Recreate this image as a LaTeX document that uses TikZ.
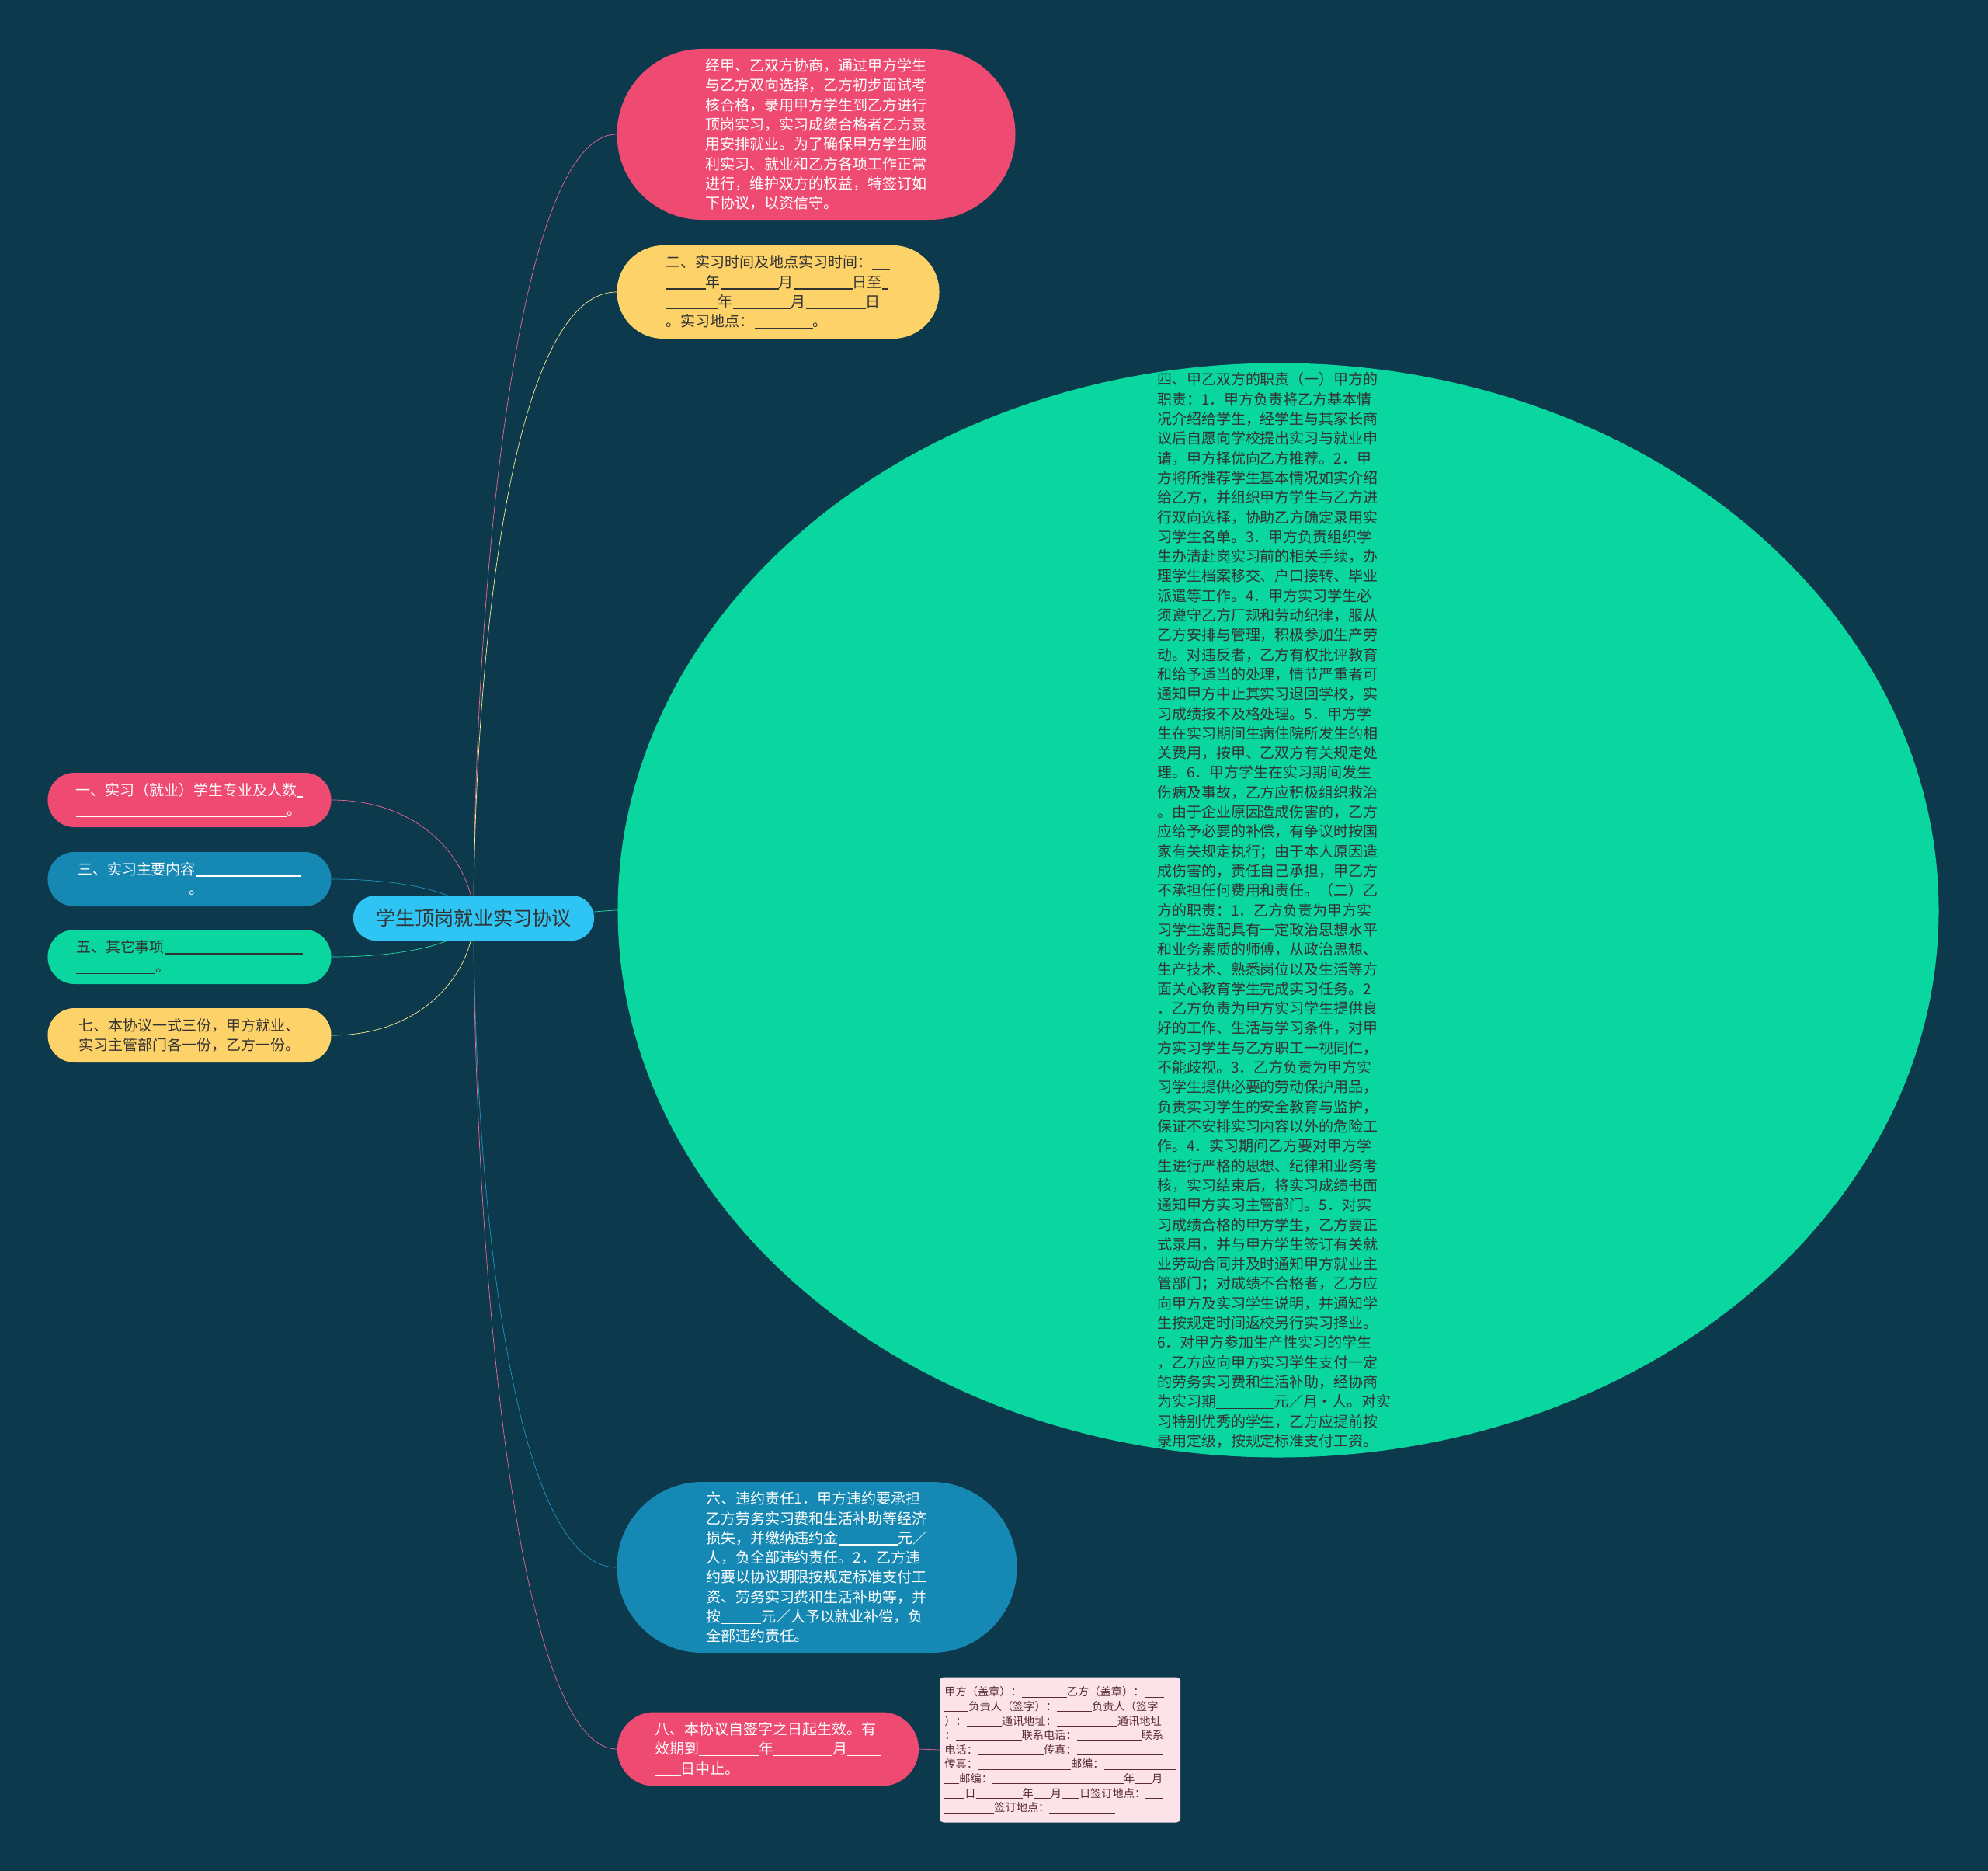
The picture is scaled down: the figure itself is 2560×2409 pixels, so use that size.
\documentclass[tikz,border=0pt]{standalone}
\usepackage{fontspec}
\setmainfont{Noto Sans CJK SC}
\usetikzlibrary{shapes.geometric,backgrounds}

\definecolor{pagebg}{HTML}{0C394B}
\definecolor{boxred}{HTML}{EF4A72}
\definecolor{boxyellow}{HTML}{FDD269}
\definecolor{boxblue}{HTML}{1688B4}
\definecolor{boxgreen}{HTML}{0AD6A0}
\definecolor{boxcyan}{HTML}{2EC4F3}
\definecolor{boxpink}{HTML}{FCE3E9}
\definecolor{linkred}{HTML}{EC6893}
\definecolor{linkyellow}{HTML}{F8EE92}
\definecolor{linkblue}{HTML}{2194C0}
\definecolor{linkgreen}{HTML}{26D9A9}
\definecolor{inkdark}{HTML}{333333}
\definecolor{inkpink}{HTML}{5A2A36}

% a fill-in line, length in pixels of the sketch
\newcommand{\blank}[1]{\rule[-0.12em]{\dimexpr0.2mm*#1\relax}{0.06em}}

\tikzset{
  pill/.style={rectangle, rounded corners=#1, inner sep=0pt, align=left},
  bodyfont/.style={font=\fontsize{10.8}{14.4}\selectfont},
  smallfont/.style={font=\fontsize{8.1}{10.6}\selectfont},
  redbox/.style={fill=boxred, text=white},
  yellowbox/.style={fill=boxyellow, text=inkdark},
  bluebox/.style={fill=boxblue, text=white},
  greenbox/.style={fill=boxgreen, text=inkdark},
  sidebox/.style={pill=0.69cm, bodyfont, minimum width=7.3cm, minimum height=1.4cm},
  link/.style={line width=2pt},
}

\begin{document}
\begin{tikzpicture}[x=0.2mm,y=-0.2mm]

\useasboundingbox (0,0) rectangle (2560,2409);
\begin{scope}[on background layer]
  \fill[pagebg] (0,0) rectangle (2560,2409);
\end{scope}

% centre
\node[pill=0.57cm, fill=boxcyan, text=inkdark, minimum width=6.2cm, minimum height=1.16cm,
      font=\fontsize{14.3}{17}\selectfont] (title) at (610,1182) {学生顶岗就业实习协议};

% left side
\node[sidebox, redbox] (item1) at (244,1030)
  {一、实习（就业）学生专业及人数\blank{8}\\\blank{272}。};
\node[sidebox, bluebox] (item3) at (244,1132)
  {三、实习主要内容\blank{136}\\\blank{143}。};
\node[sidebox, greenbox] (item5) at (244,1232)
  {五、其它事项\blank{178}\\\blank{102}。};
\node[sidebox, yellowbox] (item7) at (244,1333)
  {七、本协议一式三份，甲方就业、\\实习主管部门各一份，乙方一份。};

% right side
\node[pill=2.19cm, redbox, bodyfont, minimum width=10.26cm, minimum height=4.4cm] (intro) at (1051,173)
  {经甲、乙双方协商，通过甲方学生\\
   与乙方双向选择，乙方初步面试考\\
   核合格，录用甲方学生到乙方进行\\
   顶岗实习，实习成绩合格者乙方录\\
   用安排就业。为了确保甲方学生顺\\
   利实习、就业和乙方各项工作正常\\
   进行，维护双方的权益，特签订如\\
   下协议，以资信守。};

\node[pill=1.19cm, yellowbox, bodyfont, minimum width=8.3cm, minimum height=2.4cm] (time) at (1002,376)
  {二、实习时间及地点实习时间：\blank{23}\\
   \blank{51}年\blank{75}月\blank{76}日至\blank{8}\\
   \blank{67}年\blank{75}月\blank{77}日\\
   。实习地点：\blank{75}。};

\node[ellipse, fill=boxgreen, inner sep=0pt, minimum width=34.02cm, minimum height=28.18cm] (duties) at (1646,1172) {};
\node[bodyfont, text=inkdark, align=left, inner sep=0pt] (dutiestext) at (1641,1172)
  {四、甲乙双方的职责（一）甲方的\\
   职责：1．甲方负责将乙方基本情\\
   况介绍给学生，经学生与其家长商\\
   议后自愿向学校提出实习与就业申\\
   请，甲方择优向乙方推荐。2．甲\\
   方将所推荐学生基本情况如实介绍\\
   给乙方，并组织甲方学生与乙方进\\
   行双向选择，协助乙方确定录用实\\
   习学生名单。3．甲方负责组织学\\
   生办清赴岗实习前的相关手续，办\\
   理学生档案移交、户口接转、毕业\\
   派遣等工作。4．甲方实习学生必\\
   须遵守乙方厂规和劳动纪律，服从\\
   乙方安排与管理，积极参加生产劳\\
   动。对违反者，乙方有权批评教育\\
   和给予适当的处理，情节严重者可\\
   通知甲方中止其实习退回学校，实\\
   习成绩按不及格处理。5．甲方学\\
   生在实习期间生病住院所发生的相\\
   关费用，按甲、乙双方有关规定处\\
   理。6．甲方学生在实习期间发生\\
   伤病及事故，乙方应积极组织救治\\
   。由于企业原因造成伤害的，乙方\\
   应给予必要的补偿，有争议时按国\\
   家有关规定执行；由于本人原因造\\
   成伤害的，责任自己承担，甲乙方\\
   不承担任何费用和责任。（二）乙\\
   方的职责：1．乙方负责为甲方实\\
   习学生选配具有一定政治思想水平\\
   和业务素质的师傅，从政治思想、\\
   生产技术、熟悉岗位以及生活等方\\
   面关心教育学生完成实习任务。2\\
   ．乙方负责为甲方实习学生提供良\\
   好的工作、生活与学习条件，对甲\\
   方实习学生与乙方职工一视同仁，\\
   不能歧视。3．乙方负责为甲方实\\
   习学生提供必要的劳动保护用品，\\
   负责实习学生的安全教育与监护，\\
   保证不安排实习内容以外的危险工\\
   作。4．实习期间乙方要对甲方学\\
   生进行严格的思想、纪律和业务考\\
   核，实习结束后，将实习成绩书面\\
   通知甲方实习主管部门。5．对实\\
   习成绩合格的甲方学生，乙方要正\\
   式录用，并与甲方学生签订有关就\\
   业劳动合同并及时通知甲方就业主\\
   管部门；对成绩不合格者，乙方应\\
   向甲方及实习学生说明，并通知学\\
   生按规定时间返校另行实习择业。\\
   6．对甲方参加生产性实习的学生\\
   ，乙方应向甲方实习学生支付一定\\
   的劳务实习费和生活补助，经协商\\
   为实习期\blank{74}元／月·人。对实\\
   习特别优秀的学生，乙方应提前按\\
   录用定级，按规定标准支付工资。};

\node[pill=2.19cm, bluebox, bodyfont, minimum width=10.3cm, minimum height=4.4cm] (breach) at (1052,2018)
  {六、违约责任1．甲方违约要承担\\
   乙方劳务实习费和生活补助等经济\\
   损失，并缴纳违约金\blank{77}元／\\
   人，负全部违约责任。2．乙方违\\
   约要以协议期限按规定标准支付工\\
   资、劳务实习费和生活补助等，并\\
   按\blank{52}元／人予以就业补偿，负\\
   全部违约责任。};

\node[pill=0.94cm, redbox, bodyfont, minimum width=7.76cm, minimum height=1.9cm] (valid) at (989,2252)
  {八、本协议自签字之日起生效。有\\
   效期到\blank{77}年\blank{76}月\blank{43}\\
   \blank{33}日中止。};

\node[rectangle, rounded corners=0.1cm, fill=boxpink, text=inkpink, smallfont, align=left,
      inner sep=0pt, minimum width=6.2cm, minimum height=3.74cm] (sign) at (1365,2253)
  {甲方（盖章）：\blank{58}乙方（盖章）：\blank{25}\\
   \blank{31}负责人（签字）：\blank{45}负责人（签字\\
   ）：\blank{45}通讯地址：\blank{78}通讯地址\\
   ：\blank{85}联系电话：\blank{83}联系\\
   电话：\blank{85}传真：\blank{110}\\
   传真：\blank{120}邮编：\blank{92}\\
   \blank{19}邮编：\blank{169}年\blank{22}月\\
   \blank{26}日\blank{60}年\blank{22}月\blank{23}日签订地点：\blank{22}\\
   \blank{64}签订地点：\blank{85}};

% connectors
\begin{scope}[on background layer, link]
\draw[linkred] (title.center) .. controls +(0,-382) and +(-135,0) .. (intro.west);
\draw[linkyellow] (title.center) .. controls +(0,-282) and +(-145,0) .. (time.west);
\draw[linkgreen] (title.center) .. controls +(90,0) and +(-20,0) .. (duties.west);
\draw[linkblue] (title.center) .. controls +(0,290) and +(-145,0) .. (breach.west);
\draw[linkred] (title.center) .. controls +(0,400) and +(-135,0) .. (valid.west);
\draw[linkred] (title.center) .. controls +(0,-65) and +(123,0) .. (item1.east);
\draw[linkblue] (title.center) .. controls +(0,-22) and +(123,0) .. (item3.east);
\draw[linkgreen] (title.center) .. controls +(0,22) and +(123,0) .. (item5.east);
\draw[linkyellow] (title.center) .. controls +(0,65) and +(123,0) .. (item7.east);
\draw[linkred] (valid.east) -- (sign.west);
\end{scope}

\end{tikzpicture}
\end{document}
